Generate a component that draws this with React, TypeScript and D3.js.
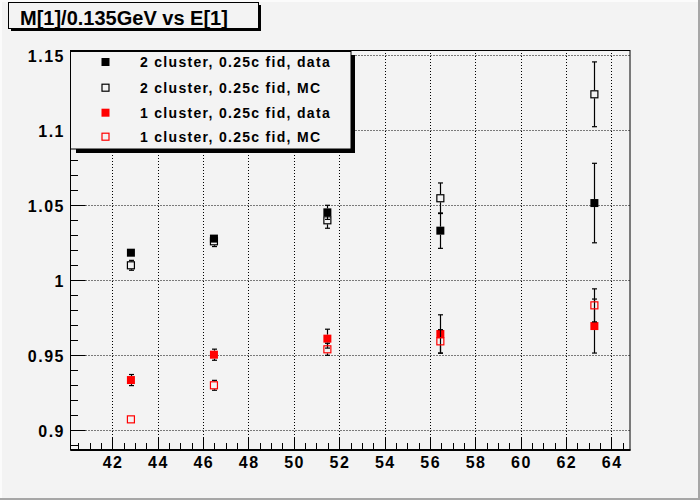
import React from 'react'
import * as d3 from 'd3'

// E[1] bins (GeV)
const energies = [42.82, 46.48, 51.48, 56.46, 63.25]

const twoClusterData = [1.0182, 1.0276, 1.0451, 1.0329, 1.0513]
const twoClusterDataErr = [0.002, 0.002, 0.0047, 0.0118, 0.0265]
const twoClusterMC = [1.0098, 1.0258, 1.0398, 1.0545, 1.1238]
const twoClusterMCErr = [0.0033, 0.0035, 0.0053, 0.0102, 0.0216]
const oneClusterData = [0.9333, 0.9502, 0.9609, 0.964, 0.9693]
const oneClusterDataErr = [0.0037, 0.0037, 0.0063, 0.0128, 0.018]
const oneClusterMC = [0.9071, 0.9298, 0.9538, 0.9591, 0.9831]
const oneClusterMCErr = [0.002, 0.0033, 0.004, 0.0078, 0.011]

const legendLabels = [
  '2 cluster, 0.25c fid, data',
  '2 cluster, 0.25c fid, MC',
  '1 cluster, 0.25c fid, data',
  '1 cluster, 0.25c fid, MC'
]

const xTicks = [42, 44, 46, 48, 50, 52, 54, 56, 58, 60, 62, 64]
const yTicks = [0.9, 0.95, 1, 1.05, 1.1, 1.15]

const series = [
  {values: twoClusterData, errors: twoClusterDataErr, color: '#000', filled: true},
  {values: twoClusterMC, errors: twoClusterMCErr, color: '#000', filled: false},
  {values: oneClusterData, errors: oneClusterDataErr, color: '#ff0000', filled: true},
  {values: oneClusterMC, errors: oneClusterMCErr, color: '#ff0000', filled: false}
]

const font = '"Liberation Sans", Arial, sans-serif'

function Marker({cx, cy, color, filled}: {cx: number; cy: number; color: string; filled: boolean}) {
  if (filled) {
    return <rect x={cx - 4} y={cy - 4} width={8} height={8} fill={color} />
  }
  return (
    <rect x={cx - 3.5} y={cy - 3.5} width={7} height={7} fill="none" stroke={color} strokeWidth={1.2} />
  )
}

export default function App() {
  const width = 700
  const height = 500
  const L = 70.5
  const R = 630
  const T = 50.5
  const B = 450

  const x = d3.scaleLinear().domain([40.157, 64.82]).range([L, R])
  const y = d3.scaleLinear().domain([0.88667, 1.153]).range([B, T])

  const xMinor = d3.range(40.5, 64.8, 0.5).filter(v => Math.abs(v / 2 - Math.round(v / 2)) > 0.01)
  const yMinor = d3.range(0.89, 1.153, 0.01).filter(v => Math.abs(v / 0.05 - Math.round(v / 0.05)) > 0.01)

  const legendRowY = [62, 87.7, 112.7, 136.7]

  return (
    <div style={{position: 'absolute', left: 0, top: 0}}>
      <svg width={width} height={height} style={{display: 'block'}}>
        {/* canvas */}
        <rect x={0} y={0} width={width} height={height} fill="#f3f3f3" />
        <rect x={0} y={0} width={width} height={2} fill="#fbfbfb" />
        <rect x={0} y={0} width={2} height={height} fill="#fbfbfb" />
        <rect x={width - 2} y={0} width={2} height={height} fill="#a6a6a6" />
        <rect x={0} y={height - 2} width={width} height={2} fill="#a6a6a6" />

        {/* grid */}
        <g stroke="#000" strokeWidth={1} strokeDasharray="1 2">
          {xTicks.map(t => (
            <line key={'gx' + t} x1={Math.round(x(t)) + 0.5} x2={Math.round(x(t)) + 0.5} y1={B} y2={T} />
          ))}
          {yTicks.map(t => (
            <line key={'gy' + t} x1={L} x2={R} y1={Math.round(y(t)) + 0.5} y2={Math.round(y(t)) + 0.5} />
          ))}
        </g>

        {/* frame */}
        <rect x={L} y={T} width={R - L} height={B - T} fill="none" stroke="#000" strokeWidth={1} />
        <line x1={L} x2={R + 0.5} y1={B} y2={B} stroke="#000" strokeWidth={2} />

        {/* ticks */}
        <g stroke="#000" strokeWidth={1}>
          {yTicks.map(t => (
            <line key={'yt' + t} x1={L} x2={L + 15} y1={Math.round(y(t)) + 0.5} y2={Math.round(y(t)) + 0.5} />
          ))}
          {yMinor.map(t => (
            <line key={'ym' + t} x1={L} x2={L + 7.5} y1={Math.round(y(t)) + 0.5} y2={Math.round(y(t)) + 0.5} />
          ))}
          {xTicks.map(t => (
            <line key={'xt' + t} x1={Math.round(x(t)) + 0.5} x2={Math.round(x(t)) + 0.5} y1={B} y2={B - 12} />
          ))}
          {xMinor.map(t => (
            <line key={'xm' + t} x1={Math.round(x(t)) + 0.5} x2={Math.round(x(t)) + 0.5} y1={B} y2={B - 7} />
          ))}
        </g>

        {/* tick labels */}
        <g fontFamily={font} fontWeight="bold" fontSize={16} fill="#000" letterSpacing={1.5}>
          {yTicks.map(t => (
            <text key={'yl' + t} x={65} y={y(t) + 7} textAnchor="end">
              {d3.format('~g')(t)}
            </text>
          ))}
          {xTicks.map(t => (
            <text key={'xl' + t} x={x(t) + 0.75} y={467.5} textAnchor="middle">
              {t}
            </text>
          ))}
        </g>

        {/* points */}
        {series.map((s, si) => (
          <g key={'s' + si}>
            {s.values.map((v, i) => {
              const cx = x(energies[i])
              const cy = y(v)
              const top = y(v + s.errors[i])
              const bot = y(v - s.errors[i])
              const half = 4
              const px = Math.round(cx) + 0.5
              return (
                <g key={i}>
                  {cy - top > half && (
                    <g stroke="#000" strokeWidth={1.2}>
                      <line x1={px} x2={px} y1={cy - half} y2={top} />
                      <line x1={px - 2.5} x2={px + 2.5} y1={top} y2={top} />
                      <line x1={px} x2={px} y1={cy + half} y2={bot} />
                      <line x1={px - 2.5} x2={px + 2.5} y1={bot} y2={bot} />
                    </g>
                  )}
                  <Marker cx={cx} cy={cy} color={s.color} filled={s.filled} />
                </g>
              )
            })}
          </g>
        ))}

        {/* legend */}
        <rect x={351} y={55} width={4} height={98} fill="#000" />
        <rect x={76} y={149} width={279} height={4} fill="#000" />
        <rect x={70.5} y={51.5} width={280.5} height={97.5} fill="#f3f3f3" stroke="#000" strokeWidth={1} />
        {series.map((s, i) => (
          <g key={'lg' + i}>
            <Marker cx={105.5} cy={legendRowY[i]} color={s.color} filled={s.filled} />
            <text
              x={140}
              y={legendRowY[i] + 5}
              fontFamily={font}
              fontWeight="bold"
              fontSize={14}
              letterSpacing={1.3}
              fill="#000"
            >
              {legendLabels[i]}
            </text>
          </g>
        ))}

        {/* title */}
        <rect x={11} y={5} width={250} height={26} fill="#000" />
        <rect x={8.5} y={2.5} width={250} height={26} fill="#f3f3f3" stroke="#000" strokeWidth={1} />
        <text x={20} y={24.5} fontFamily={font} fontWeight="bold" fontSize={20} fill="#000">
          M[1]/0.135GeV vs E[1]
        </text>
      </svg>
    </div>
  )
}
